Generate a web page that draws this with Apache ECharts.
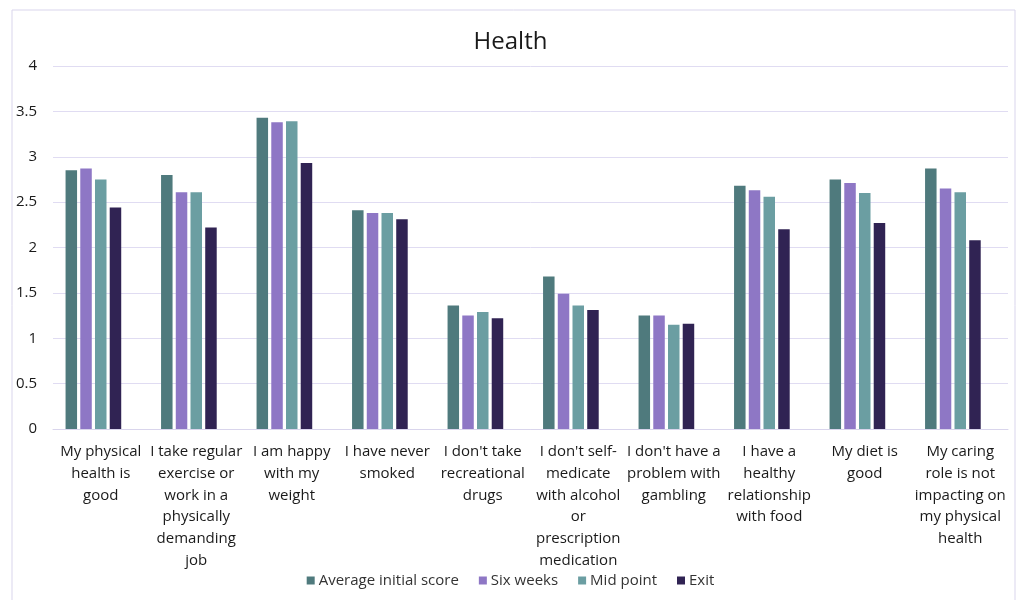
<!DOCTYPE html>
<html>
<head>
<meta charset="utf-8">
<script src="https://cdn.jsdelivr.net/npm/echarts@6/dist/echarts.min.js"></script>
<style>
html,body{margin:0;padding:0;background:#fff;}
#chart{width:1021px;height:600px;}
</style>
</head>
<body>
<div id="chart"></div>
<script>
const categories = [
  "My physical\nhealth is\ngood",
  "I take regular\nexercise or\nwork in a\nphysically\ndemanding\njob",
  "I am happy\nwith my\nweight",
  "I have never\nsmoked",
  "I don't take\nrecreational\ndrugs",
  "I don't self-\nmedicate\nwith alcohol\nor\nprescription\nmedication",
  "I don't have a\nproblem with\ngambling",
  "I have a\nhealthy\nrelationship\nwith food",
  "My diet is\ngood",
  "My caring\nrole is not\nimpacting on\nmy physical\nhealth"
];
const averageInitial = [2.85, 2.80, 3.43, 2.41, 1.36, 1.68, 1.25, 2.68, 2.75, 2.87];
const sixWeeks      = [2.87, 2.61, 3.38, 2.38, 1.25, 1.49, 1.25, 2.63, 2.71, 2.65];
const midPoint      = [2.75, 2.61, 3.39, 2.38, 1.29, 1.36, 1.15, 2.56, 2.60, 2.61];
const exitScore     = [2.44, 2.22, 2.93, 2.31, 1.22, 1.31, 1.16, 2.20, 2.27, 2.08];
const emptySlot     = [];
const seriesNames = ["Average initial score", "Six weeks", "Mid point", "Exit"];
const yTicks = { min: 0, max: 4, interval: 0.5 };

const colors = ["#4f7a7d", "#8e77c5", "#6b9ea2", "#302353"];
const font = "'Open Sans', 'Noto Sans', sans-serif";

const chart = echarts.init(document.getElementById('chart'), null, {renderer: 'canvas'});
const values = [averageInitial, sixWeeks, midPoint, exitScore];
const series = values.map((d, i) => ({
  name: seriesNames[i],
  type: 'bar',
  data: d,
  barWidth: 11.5,
  barGap: '28%',
  itemStyle: { color: colors[i] },
  emphasis: { disabled: true }
}));
series.push({ name: 'blank', type: 'bar', data: emptySlot, barWidth: 11.5, barGap: '28%' });

chart.setOption({
  backgroundColor: '#ffffff',
  animation: false,
  textStyle: { fontFamily: font },
  graphic: [{
    type: 'rect',
    shape: { x: 12, y: 10, width: 1003, height: 600 },
    style: { fill: 'none', stroke: '#d9d5ec', lineWidth: 1 },
    silent: true
  }],
  title: {
    text: 'Health',
    left: 'center',
    top: 25,
    textStyle: { fontFamily: font, fontSize: 24, fontWeight: 'normal', color: '#1a1a1a' }
  },
  legend: {
    data: seriesNames,
    bottom: 7,
    left: 'center',
    itemWidth: 8,
    itemHeight: 8,
    itemGap: 20,
    icon: 'rect',
    textStyle: { fontFamily: font, fontSize: 15, color: '#333', padding: [0,0,0,-1] }
  },
  grid: { left: 53, right: 13, top: 66, bottom: 171, containLabel: false },
  xAxis: {
    type: 'category',
    data: categories,
    axisLine: { lineStyle: { color: '#d9d5ec' } },
    axisTick: { show: false },
    axisLabel: {
      interval: 0,
      margin: 12,
      fontFamily: font,
      fontSize: 15,
      lineHeight: 21.7,
      color: '#1a1a1a',
      align: 'center',
      verticalAlign: 'top'
    }
  },
  yAxis: {
    type: 'value',
    min: yTicks.min,
    max: yTicks.max,
    interval: yTicks.interval,
    axisLine: { show: false },
    axisTick: { show: false },
    splitLine: { lineStyle: { color: '#e0dcf2', width: 1 } },
    axisLabel: { margin: 16, fontFamily: font, fontSize: 15, color: '#1a1a1a' }
  },
  series: series
});
</script>
</body>
</html>
